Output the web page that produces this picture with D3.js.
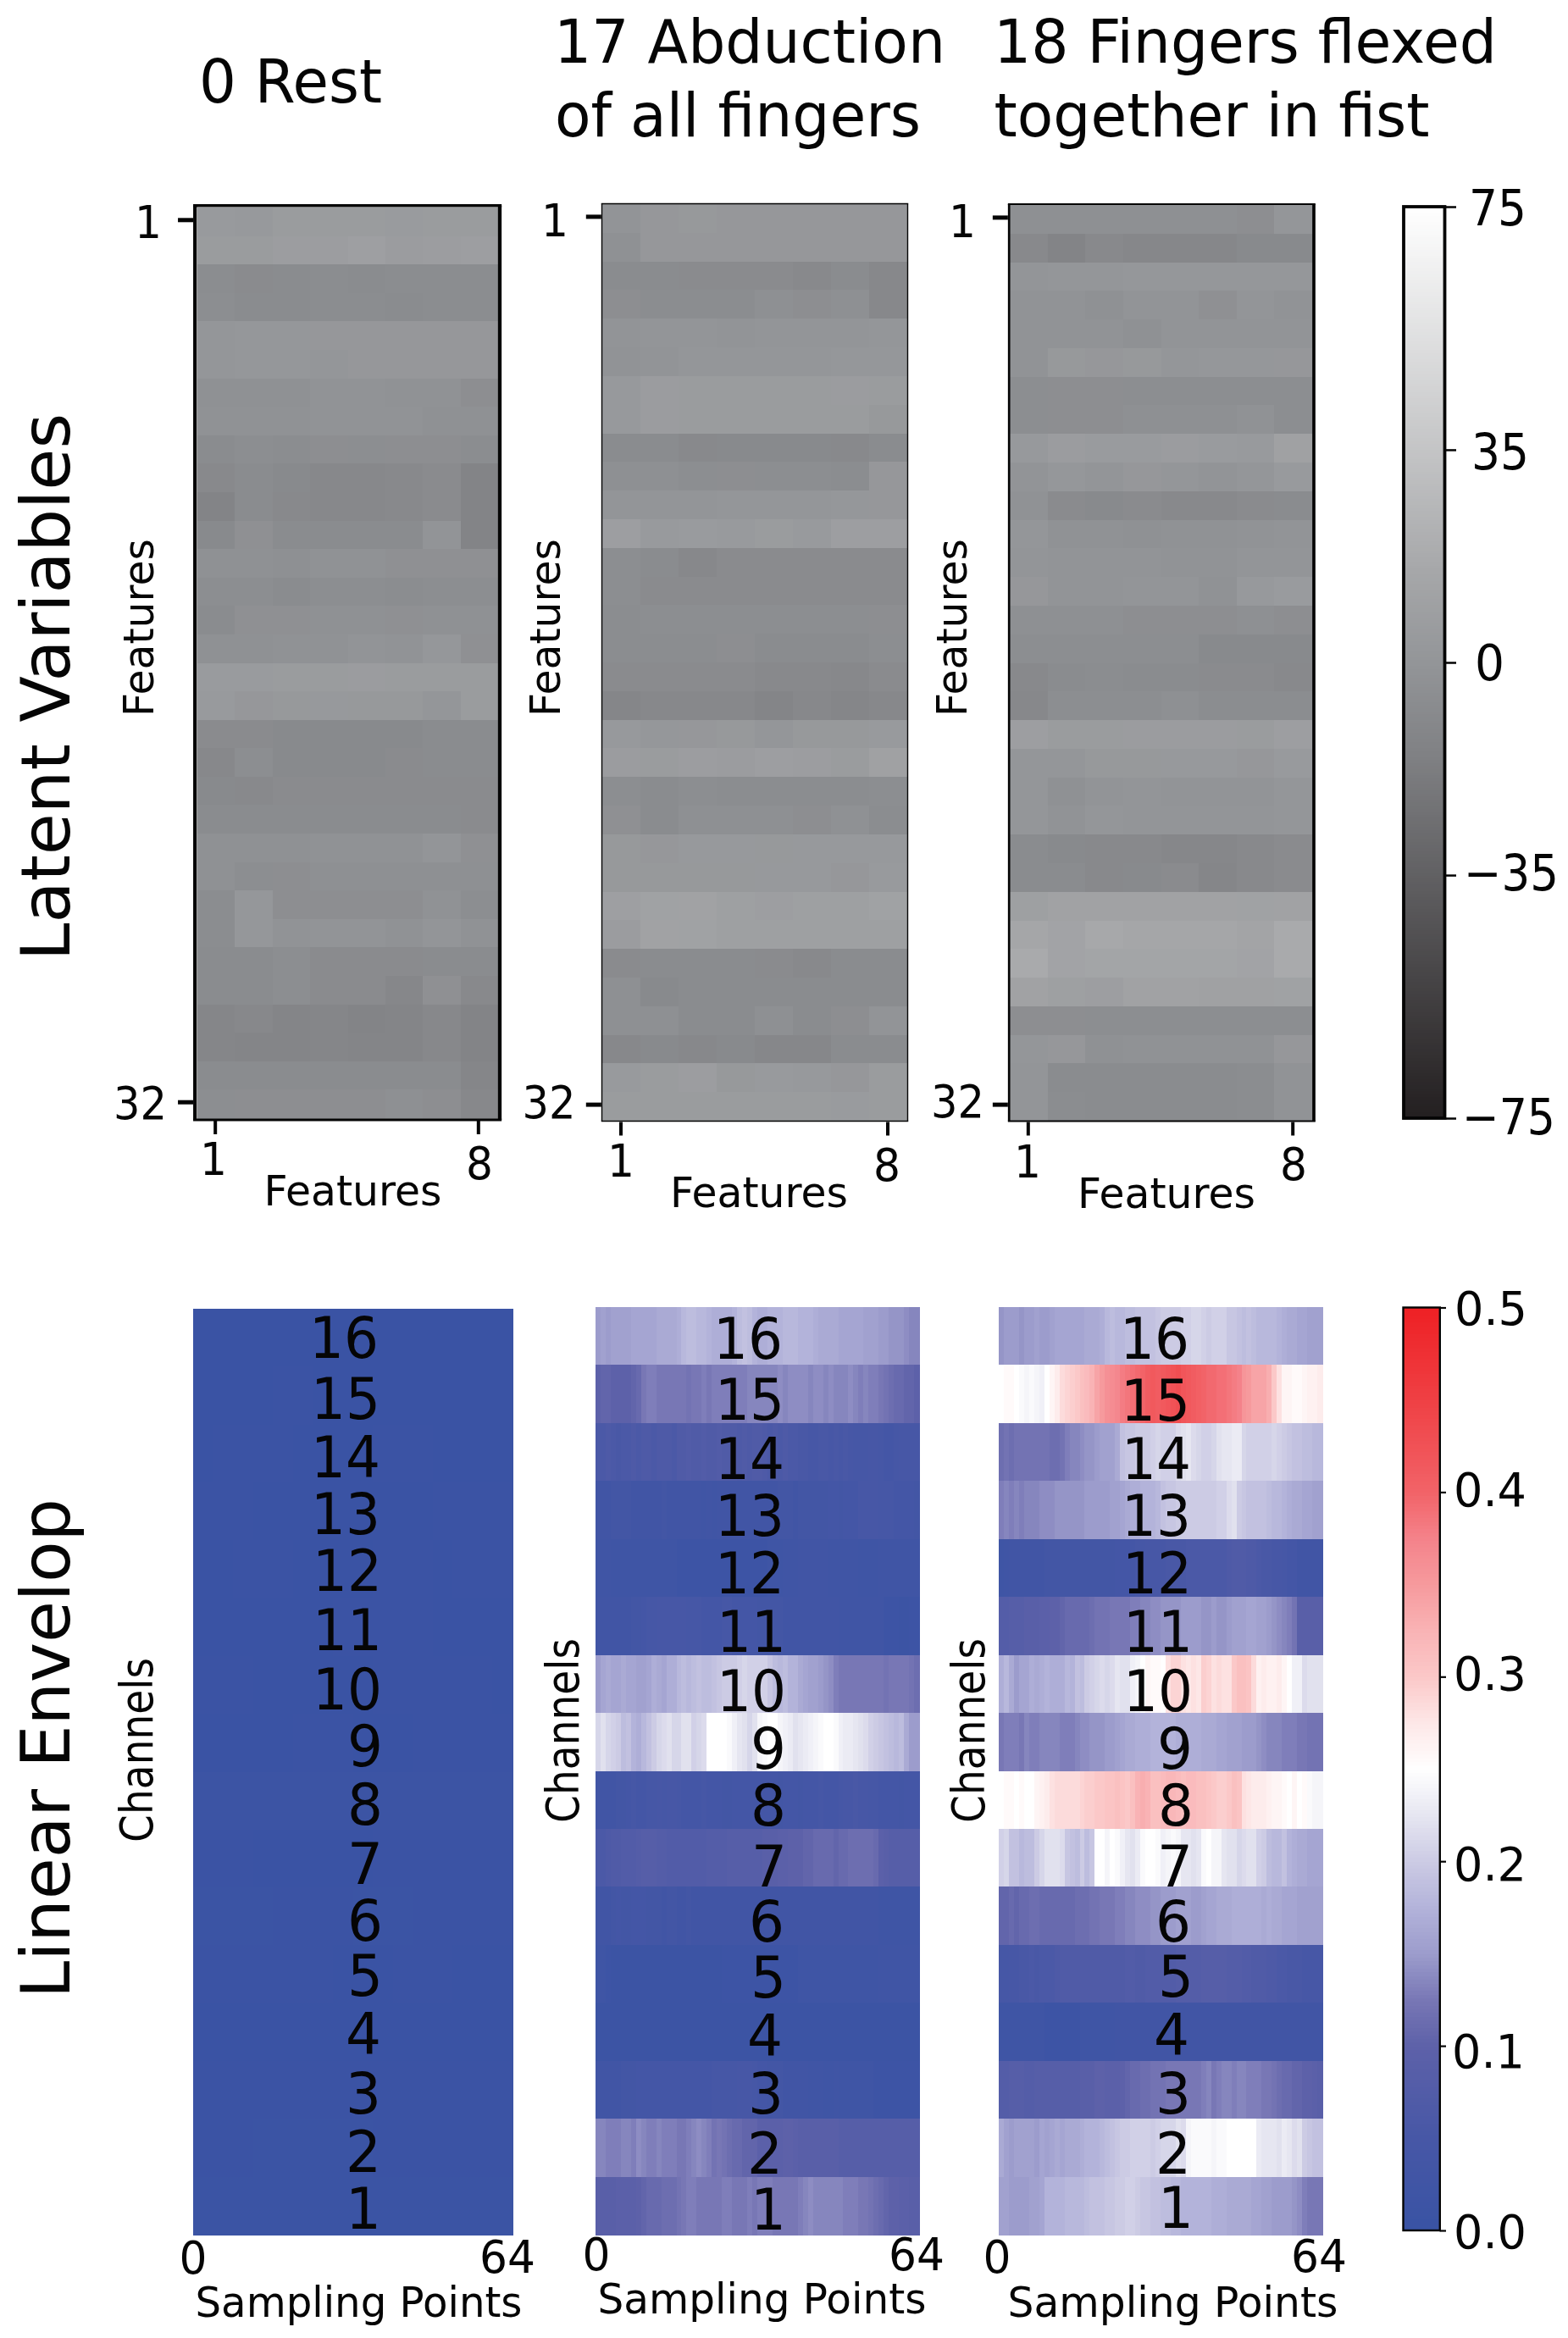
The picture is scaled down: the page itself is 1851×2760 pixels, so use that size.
<!DOCTYPE html>
<html><head><meta charset="utf-8">
<style>html,body{margin:0;padding:0;background:#fff}svg{display:block}text{font-family:"DejaVu Sans",sans-serif;fill:#050505}</style>
<script src="https://cdnjs.cloudflare.com/ajax/libs/d3/7.8.5/d3.min.js"></script>
</head><body><svg id="c" width="1851" height="2760"></svg>
<script>
// ---------- DATA ----------
const titles = [["0 Rest"],["17 Abduction","of all fingers"],["18 Fingers flexed","together in fist"]];
const featureRows = d3.range(1,33);
const featureCols = d3.range(1,9);
const channels = d3.range(16,0,-1);
const latentTicks = [75,35,0,-35,-75];
const envelopeTicks = [0.5,0.4,0.3,0.2,0.1,0.0];

const latentRest = [
[4,3.5,5.5,5.5,5.5,5,5.5,5.5],[5.5,5.5,7,7,8.5,6,7,7.5],[-6,-7.5,-7,-6,-7,-6,-6,-6],[-5.5,-7,-7,-6,-6,-7,-6,-6],
[.5,1.5,1.5,2,2,2,2,2],[.5,1.5,1.5,.5,2,2,2,2],[-3,-3,-3,-1.5,-1.5,-2,-2,-5],[-2,-2,-2,-1.5,-1.5,-1.5,-3,-3],
[-7,-5.5,-6,-5,-5.5,-5,-5,-6],[-9,-7,-8.5,-9.5,-9.5,-9,-7.5,-12.5],[-12.5,-7,-9,-9.5,-9.5,-9,-7.5,-12.5],[-8.5,-3.5,-7,-7,-7,-7,-.5,-12.5],
[-3,-3,-4,-2,-2,-3.5,-3.5,-3.5],[-5.5,-5.5,-7,-5.5,-5.5,-6,-5.5,-5.5],[-7,-3.5,-3.5,-3,-3,-3.5,-3,-3],[-3,-3,-2,-2,-.5,-1.5,1.5,-3.5],
[5,5,5.5,5.5,6,5.5,5.5,5.5],[4,2,3,3.5,3,3,.5,5.5],[-7.5,-7.5,-8.5,-8.5,-8.5,-8.5,-7,-7],[-9.5,-5.5,-8.5,-8.5,-8.5,-7.5,-7,-7],
[-8.5,-9,-7.5,-7.5,-7.5,-7.5,-7.5,-7.5],[-7,-7,-7,-7,-7,-7,-7,-7.5],[-3,-3,-3,-2,-2,-2,0,-3.5],[-3,-5.5,-5,-4,-4,-4,-4,-4],
[-6,1.5,-5,-5,-5,-5,-2,-5.5],[-6,1.5,-1.5,-.5,-.5,-2,0,-2],[-7,-7,-5.5,-7.5,-7.5,-7.5,-7,-7],[-7,-7,-5.5,-7.5,-7.5,-10.5,-3.5,-9],
[-11,-9.5,-12,-11,-12.5,-12,-9.5,-12.5],[-11,-12,-12,-11,-12,-12,-9.5,-12.5],[-7,-7,-7,-7,-7,-7,-7,-11],[-5.5,-5,-5,-5,-5,-4,-5,-9.5]];
const latentAbduction = [
[-.5,2,3,2,2,2,2,2],[-3,2,2,2,2,2,2,2],[-7,-7,-7.5,-7.5,-7.5,-9,-7,-9.5],[-5,-6,-6,-6,-4,-5,-4,-9.5],
[-.5,0,0,-.5,0,0,0,.5],[-1.5,-.5,.5,.5,.5,.5,1.5,1.5],[3.5,6,5.5,5.5,5.5,5.5,6,5.5],[3.5,6,5.5,5.5,5.5,5.5,5.5,3],
[-7,-7,-9,-8.5,-8.5,-8.5,-9,-7],[-4,-4,-5.5,-5,-5.5,-5.5,-6,2],[0,0,0,.5,.5,.5,1.5,2],[7.5,4,5,4,5.5,4,7.5,7.5],
[-5.5,-7,-9.5,-7.5,-7.5,-7.5,-7.5,-7.5],[-5.5,-7.5,-7.5,-7.5,-7.5,-7.5,-7.5,-7.5],[-6,-5.5,-5.5,-5.5,-5.5,-5.5,-5.5,-5],[-6,-6,-6,-5,-7,-7,-7,-5.5],
[-7.5,-7.5,-7.5,-7.5,-9,-9,-9.5,-7.5],[-11,-9.5,-9.5,-9.5,-12,-9.5,-11,-9.5],[3.5,1.5,2,3,.5,3,3,4],[6,5.5,7,6,7.5,7,5.5,10],
[-5.5,-7,-5.5,-6,-6,-6,-6,-5.5],[-3.5,-7,-4,-4,-4,-5,-3,-6],[3,2,3.5,3.5,3,3.5,3.5,3.5],[3,3,3,3,3.5,3.5,2,4],
[8.5,10.5,11,9,7.5,9,9,10.5],[6,11,10.5,9,9,9,9,9],[-7.5,-7,-7,-7,-7.5,-9,-7,-7],[-4,-8.5,-7,-7,-7,-7,-7,-7],
[-4,-4,-7,-7,-4,-7,-5,-.5],[-9.5,-8.5,-9.5,-8.5,-10.5,-10.5,-7,-7],[4,5.5,7,3,4,3.5,2,5.5],[5.5,5.5,5.5,5.5,5.5,5.5,5,5.5]];
const latentFist = [
[-4,-4,-4,-4,-4,-4,-5,.5],[-9,-12.5,-9,-10.5,-10.5,-10.5,-8.5,-8.5],[0,.5,.5,1.5,1.5,1.5,1.5,1.5],[-1.5,-1.5,-3,-.5,-.5,-3.5,0,-1.5],
[-1.5,-1.5,-1.5,-3,-.5,-.5,-.5,-.5],[-1.5,3,2,3,.5,1.5,1.5,2],[-5.5,-5,-5,-5.5,-5.5,-5.5,-5.5,-5.5],[-5.5,-5,-5,-4,-4,-4,-2,-5.5],
[3.5,6,5,5,6,5,4,10],[-.5,1.5,0,2,.5,-.5,.5,4],[-2,-7.5,-8.5,-7.5,-9,-9,-7.5,-7],[.5,-2,-2,-3,-2,-2,-1.5,-.5],
[0,-.5,-.5,-.5,-1.5,-1.5,0,0],[2,-.5,-.5,0,0,-2,3.5,5],[-4,-4,-4,-5,-5,-5,-4,-5],[-5.5,-5.5,-5.5,-5.5,-5.5,-8.5,-8.5,-8.5],
[-9,-7,-6,-7,-7,-7.5,-7.5,-9],[-9.5,-5.5,-5.5,-5.5,-4,-6,-6,-6],[7.5,5.5,5.5,6,6,6,5.5,7.5],[.5,.5,3,3,3.5,3.5,2,4],
[.5,-3,-.5,0,-.5,-.5,-.5,.5],[.5,-1.5,.5,0,0,0,0,.5],[-7,-8.5,-9,-9,-10.5,-10.5,-9,-7.5],[-7,-7,-9,-8.5,-7.5,-11,-9,-7.5],
[9,11,11,11,11,11,10.5,11],[14,12,16,14.5,14.5,14.5,12.5,17],[17,12,13,13,13,13,12,17],[11,9,7.5,11,11,10,10,10.5],
[-5,-5,-5.5,-5.5,-5.5,-5.5,-5.5,-5.5],[.5,2,-3,-2,-2,-2,-2,2],[0,-7,-7,-7,-7,-7,-6,-1.5],[0,-6,-7,-7,-7,-7,-6,-1.5]];

// rest: the picture is almost flat, read in 16 coarse blocks per channel
const envelopeRest = [
[.005,.005,.005,.005,.005,.005,.005,.005,.005,.005,.005,.005,.005,.005,.005,.005],
[.005,.005,.005,.005,.006,.006,.005,.005,.005,.005,.005,.005,.005,.005,.005,.005],
[.005,.006,.006,.006,.006,.005,.005,.005,.005,.006,.006,.006,.005,.005,.005,.005],
[.006,.006,.006,.005,.005,.005,.005,.005,.005,.005,.005,.005,.006,.006,.006,.006],
[.005,.005,.006,.006,.006,.005,.005,.005,.005,.006,.006,.006,.005,.006,.006,.006],
[.005,.005,.005,.005,.005,.005,.005,.006,.006,.006,.006,.006,.005,.005,.005,.005],
[.006,.006,.006,.005,.005,.005,.005,.005,.005,.006,.006,.006,.006,.006,.006,.005],
[.005,.005,.005,.005,.005,.006,.006,.006,.005,.005,.005,.006,.006,.006,.006,.006],
[.009,.009,.009,.01,.01,.009,.01,.01,.01,.011,.011,.011,.01,.01,.01,.009],
[.006,.006,.006,.005,.005,.005,.005,.005,.005,.006,.006,.006,.006,.006,.006,.006],
[.007,.007,.007,.007,.006,.006,.006,.006,.007,.007,.007,.006,.006,.006,.006,.006],
[.006,.006,.006,.006,.006,.006,.006,.005,.005,.005,.006,.006,.006,.005,.005,.005],
[.005,.005,.005,.005,.005,.005,.005,.005,.005,.005,.005,.005,.005,.005,.005,.005],
[.006,.006,.006,.006,.006,.006,.006,.006,.006,.006,.006,.006,.006,.006,.006,.006],
[.006,.006,.006,.007,.007,.007,.007,.007,.007,.006,.006,.006,.006,.006,.006,.006],
[.008,.008,.008,.008,.007,.007,.007,.007,.007,.007,.008,.008,.008,.007,.007,.007]];

const envelopeAbduction = [
[.15,.155,.15,.155,.155,.155,.155,.16,.16,.16,.16,.16,.165,.165,.165,.165,.17,.18,.185,.185,.18,.18,.175,.17,.17,.17,.17,.175,.185,.19,.185,.175,.17,.17,.175,.175,.175,.18,.18,.18,.175,.175,.175,.17,.165,.165,.165,.165,.16,.16,.16,.16,.16,.155,.155,.155,.15,.15,.145,.145,.145,.14,.135,.135],
[.1,.105,.105,.1,.1,.1,.1,.105,.11,.125,.13,.13,.125,.125,.125,.125,.125,.125,.12,.125,.125,.13,.125,.13,.13,.13,.13,.13,.13,.13,.135,.135,.135,.135,.135,.135,.14,.135,.14,.14,.14,.14,.135,.14,.14,.135,.14,.135,.135,.135,.14,.135,.13,.135,.13,.13,.125,.12,.115,.11,.11,.105,.105,.1],
[.06,.06,.065,.06,.055,.06,.06,.065,.06,.065,.065,.06,.065,.065,.065,.06,.07,.07,.075,.07,.07,.075,.07,.07,.075,.07,.07,.07,.065,.07,.065,.07,.07,.065,.06,.065,.06,.065,.06,.06,.055,.055,.05,.05,.055,.055,.05,.055,.05,.055,.05,.045,.045,.045,.05,.05,.045,.04,.04,.045,.05,.05,.05,.05],
[.03,.03,.03,.035,.035,.035,.035,.03,.03,.03,.03,.03,.03,.035,.03,.03,.03,.03,.03,.03,.03,.025,.03,.025,.03,.03,.03,.03,.03,.03,.03,.03,.03,.03,.03,.03,.035,.035,.035,.03,.035,.035,.035,.035,.035,.035,.04,.04,.035,.04,.04,.04,.05,.05,.05,.05,.045,.045,.045,.04,.04,.04,.04,.035],
[.025,.025,.025,.02,.02,.02,.02,.02,.02,.02,.02,.02,.02,.02,.02,.02,.015,.015,.015,.015,.015,.015,.015,.015,.015,.015,.015,.015,.015,.015,.015,.015,.015,.015,.02,.02,.02,.025,.025,.025,.03,.03,.03,.03,.03,.03,.025,.025,.025,.025,.025,.025,.02,.02,.02,.02,.025,.025,.025,.025,.025,.025,.025,.025],
[.03,.03,.03,.03,.03,.03,.03,.035,.035,.04,.045,.045,.05,.05,.05,.05,.05,.05,.045,.045,.045,.04,.04,.04,.04,.045,.045,.04,.04,.04,.04,.04,.035,.035,.035,.035,.035,.03,.03,.03,.03,.03,.03,.03,.03,.03,.03,.03,.025,.025,.025,.025,.025,.025,.025,.025,.025,.015,.015,.015,.01,.01,.015,.015],
[.15,.16,.165,.16,.16,.165,.16,.16,.155,.155,.16,.17,.165,.16,.17,.17,.18,.185,.18,.185,.19,.185,.185,.19,.195,.2,.2,.2,.205,.21,.205,.205,.205,.205,.195,.185,.18,.185,.175,.175,.165,.16,.155,.155,.15,.145,.14,.13,.125,.125,.125,.125,.125,.125,.125,.125,.125,.12,.125,.125,.125,.125,.12,.115],
[.21,.22,.21,.205,.2,.185,.19,.175,.17,.18,.19,.2,.21,.215,.22,.21,.21,.22,.22,.205,.21,.215,.25,.25,.25,.25,.245,.235,.225,.22,.21,.22,.24,.245,.25,.25,.24,.235,.23,.22,.225,.23,.235,.24,.245,.25,.25,.245,.235,.23,.23,.225,.22,.215,.205,.2,.195,.19,.185,.18,.185,.165,.15,.15],
[.03,.03,.03,.03,.035,.035,.04,.045,.04,.04,.045,.045,.05,.045,.05,.05,.045,.04,.04,.04,.04,.045,.04,.04,.04,.035,.035,.04,.04,.04,.04,.04,.04,.04,.04,.04,.035,.04,.04,.04,.035,.04,.04,.04,.045,.04,.04,.04,.045,.05,.05,.055,.05,.05,.045,.045,.04,.04,.04,.04,.035,.04,.04,.04],
[.06,.06,.065,.07,.07,.075,.075,.075,.08,.085,.085,.085,.08,.08,.075,.075,.075,.075,.075,.075,.075,.075,.08,.08,.08,.08,.085,.085,.085,.085,.085,.085,.085,.09,.09,.09,.095,.095,.1,.1,.1,.105,.105,.11,.11,.11,.11,.105,.11,.11,.115,.115,.115,.115,.115,.11,.095,.09,.085,.085,.085,.085,.085,.085],
[.03,.03,.03,.035,.04,.035,.035,.04,.04,.04,.035,.035,.035,.03,.035,.035,.03,.03,.035,.03,.03,.03,.03,.03,.03,.03,.03,.03,.03,.03,.03,.03,.03,.03,.03,.03,.03,.03,.03,.03,.03,.03,.03,.03,.03,.03,.03,.03,.03,.03,.03,.03,.03,.03,.03,.03,.02,.02,.02,.02,.02,.02,.02,.02],
[.02,.02,.015,.01,.01,.01,.01,.01,.01,.01,.01,.01,.01,.01,.01,.01,.01,.01,.01,.01,.01,.01,.01,.01,.01,.015,.015,.015,.015,.015,.015,.015,.015,.015,.015,.015,.015,.015,.015,.015,.02,.02,.02,.02,.02,.02,.02,.02,.02,.02,.02,.02,.02,.02,.02,.02,.025,.025,.025,.025,.025,.025,.025,.025],
[.012,.012,.012,.012,.012,.012,.012,.012,.012,.012,.012,.012,.012,.012,.012,.012,.012,.012,.012,.012,.012,.012,.012,.012,.012,.012,.01,.01,.01,.01,.01,.01,.01,.01,.01,.01,.012,.012,.012,.012,.012,.012,.012,.012,.012,.012,.012,.012,.012,.012,.012,.012,.01,.01,.01,.01,.01,.01,.01,.01,.01,.01,.01,.01],
[.03,.03,.03,.03,.03,.035,.035,.035,.04,.04,.04,.04,.04,.04,.04,.04,.04,.04,.04,.04,.04,.04,.04,.045,.045,.045,.045,.045,.05,.05,.05,.045,.04,.04,.035,.035,.035,.03,.03,.03,.03,.03,.025,.025,.025,.02,.02,.025,.02,.02,.02,.02,.02,.02,.02,.015,.015,.015,.015,.015,.015,.015,.015,.015],
[.135,.135,.13,.13,.13,.135,.135,.13,.14,.135,.13,.13,.135,.13,.13,.13,.125,.125,.13,.135,.14,.135,.13,.12,.125,.12,.115,.11,.11,.105,.105,.105,.095,.095,.095,.095,.095,.1,.1,.095,.09,.09,.09,.09,.09,.09,.09,.09,.085,.085,.085,.085,.085,.085,.085,.085,.085,.085,.085,.085,.085,.085,.085,.085],
[.09,.09,.09,.09,.095,.095,.095,.095,.1,.105,.11,.11,.11,.115,.115,.115,.12,.125,.13,.13,.125,.125,.125,.125,.125,.13,.13,.125,.125,.125,.13,.125,.13,.13,.13,.125,.125,.125,.125,.125,.13,.135,.14,.135,.135,.135,.135,.135,.135,.13,.13,.13,.125,.125,.12,.115,.11,.105,.1,.1,.095,.095,.09,.09]];

const envelopeFist = [
[.145,.15,.15,.15,.145,.15,.15,.155,.15,.15,.155,.16,.16,.16,.16,.16,.16,.165,.165,.165,.17,.18,.185,.18,.18,.185,.185,.19,.19,.19,.19,.195,.2,.2,.2,.2,.205,.205,.21,.21,.205,.2,.205,.205,.205,.195,.195,.19,.185,.19,.185,.18,.18,.18,.18,.175,.17,.165,.165,.16,.16,.155,.155,.155],
[.25,.255,.255,.25,.245,.24,.245,.24,.235,.25,.26,.27,.285,.29,.295,.3,.31,.315,.325,.34,.35,.36,.365,.37,.38,.385,.39,.395,.4,.41,.415,.41,.415,.42,.425,.43,.42,.415,.41,.405,.4,.395,.395,.39,.39,.385,.38,.375,.355,.35,.34,.34,.34,.33,.3,.28,.26,.26,.255,.255,.26,.265,.265,.27],
[.115,.12,.115,.12,.12,.12,.12,.12,.12,.12,.115,.115,.12,.13,.135,.135,.14,.145,.145,.15,.155,.155,.155,.165,.19,.195,.195,.2,.2,.2,.205,.21,.205,.205,.205,.215,.22,.225,.215,.21,.205,.205,.21,.22,.225,.225,.23,.23,.21,.205,.205,.205,.205,.205,.21,.205,.2,.195,.19,.19,.185,.185,.18,.18],
[.13,.135,.13,.135,.13,.135,.135,.135,.14,.14,.14,.145,.145,.145,.145,.145,.145,.15,.15,.15,.15,.15,.155,.155,.16,.165,.17,.17,.175,.175,.175,.18,.19,.195,.195,.2,.2,.2,.2,.2,.2,.2,.2,.205,.205,.215,.22,.2,.195,.19,.19,.19,.19,.185,.18,.18,.175,.17,.165,.165,.16,.16,.155,.155],
[.02,.025,.03,.03,.03,.03,.03,.03,.03,.035,.035,.035,.035,.035,.035,.035,.035,.035,.035,.035,.035,.035,.035,.04,.04,.04,.04,.045,.045,.05,.05,.05,.05,.055,.055,.055,.055,.06,.06,.06,.06,.06,.06,.06,.06,.065,.07,.07,.07,.065,.065,.06,.055,.055,.05,.05,.045,.04,.04,.03,.03,.03,.03,.03],
[.08,.08,.085,.085,.085,.09,.09,.09,.095,.095,.1,.1,.105,.11,.11,.11,.11,.11,.115,.12,.12,.12,.125,.125,.125,.125,.13,.13,.135,.135,.14,.14,.145,.145,.145,.145,.15,.15,.15,.15,.145,.145,.15,.145,.145,.15,.155,.155,.155,.16,.16,.155,.155,.15,.145,.14,.135,.13,.12,.09,.09,.09,.09,.09],
[.17,.18,.165,.15,.16,.16,.17,.165,.17,.175,.17,.17,.17,.18,.175,.19,.185,.2,.205,.21,.215,.21,.215,.225,.22,.22,.235,.24,.25,.26,.255,.255,.25,.28,.29,.29,.28,.275,.28,.275,.295,.29,.28,.285,.28,.28,.3,.31,.31,.305,.285,.265,.27,.265,.265,.27,.26,.25,.235,.235,.215,.22,.22,.22],
[.125,.13,.13,.13,.125,.135,.13,.13,.135,.135,.135,.135,.13,.13,.13,.135,.14,.14,.145,.145,.145,.15,.15,.155,.16,.165,.165,.17,.17,.17,.175,.175,.175,.175,.175,.17,.17,.17,.17,.17,.165,.165,.165,.16,.16,.155,.155,.155,.15,.15,.15,.145,.14,.135,.135,.135,.13,.13,.13,.125,.125,.12,.12,.12],
[.25,.255,.255,.25,.255,.25,.25,.26,.265,.27,.28,.285,.285,.285,.285,.285,.29,.295,.295,.3,.3,.305,.305,.31,.305,.3,.31,.325,.33,.325,.31,.31,.315,.32,.32,.315,.31,.315,.315,.31,.31,.305,.3,.295,.295,.3,.31,.305,.28,.275,.27,.27,.27,.265,.26,.26,.255,.25,.26,.25,.255,.245,.24,.24],
[.205,.21,.19,.19,.18,.185,.185,.2,.21,.22,.22,.22,.215,.195,.19,.185,.2,.185,.195,.25,.25,.24,.25,.245,.235,.225,.22,.23,.245,.25,.25,.245,.235,.24,.245,.24,.225,.225,.22,.225,.245,.25,.24,.24,.225,.22,.22,.21,.215,.22,.22,.205,.2,.185,.18,.18,.19,.175,.17,.165,.165,.16,.16,.16],
[.105,.105,.11,.105,.11,.11,.115,.115,.11,.11,.11,.11,.11,.11,.11,.115,.115,.115,.12,.12,.125,.125,.125,.13,.13,.135,.135,.14,.14,.14,.145,.145,.15,.15,.15,.155,.155,.155,.15,.15,.155,.16,.16,.165,.165,.165,.17,.17,.17,.17,.17,.17,.165,.17,.165,.165,.16,.16,.16,.155,.155,.155,.155,.155],
[.045,.045,.05,.05,.055,.055,.06,.055,.06,.06,.06,.065,.07,.07,.07,.07,.07,.07,.07,.07,.07,.07,.07,.07,.07,.075,.075,.07,.07,.075,.075,.075,.075,.075,.075,.08,.08,.08,.08,.08,.085,.085,.085,.085,.085,.08,.08,.08,.075,.075,.07,.07,.07,.065,.065,.06,.06,.055,.055,.055,.05,.05,.05,.05],
[.02,.02,.02,.02,.02,.02,.02,.02,.02,.015,.015,.015,.015,.015,.015,.015,.02,.02,.02,.02,.02,.02,.025,.03,.03,.03,.03,.03,.03,.03,.03,.03,.03,.03,.03,.03,.03,.03,.03,.03,.03,.03,.03,.03,.03,.03,.03,.03,.03,.03,.03,.03,.03,.03,.03,.03,.03,.03,.03,.03,.03,.03,.03,.03],
[.08,.08,.085,.085,.085,.08,.08,.085,.085,.085,.085,.085,.085,.085,.085,.085,.09,.09,.09,.1,.1,.095,.095,.095,.1,.105,.11,.11,.115,.115,.12,.12,.12,.125,.125,.125,.125,.125,.125,.125,.13,.135,.125,.13,.135,.135,.13,.135,.135,.13,.13,.13,.125,.125,.12,.115,.11,.11,.105,.105,.1,.1,.095,.09],
[.165,.155,.15,.155,.155,.155,.155,.15,.16,.155,.16,.165,.16,.165,.165,.165,.17,.175,.175,.175,.18,.185,.19,.195,.2,.2,.205,.205,.205,.205,.2,.205,.21,.21,.21,.22,.215,.24,.245,.245,.245,.245,.24,.245,.245,.25,.25,.25,.25,.25,.25,.23,.225,.225,.225,.22,.23,.225,.215,.22,.2,.195,.19,.19],
[.155,.155,.15,.15,.15,.15,.155,.155,.16,.175,.175,.175,.175,.18,.18,.18,.18,.185,.19,.19,.19,.195,.195,.2,.2,.205,.205,.2,.195,.195,.19,.19,.185,.185,.18,.18,.175,.175,.175,.175,.175,.175,.17,.17,.17,.165,.165,.165,.165,.165,.16,.16,.155,.155,.15,.15,.15,.15,.145,.14,.13,.125,.125,.125]];

// ---------- COLOUR ----------
const grayScale = d3.scaleLinear().domain([-75,-15,0,15,75]).range(["#231f20","#808184","#939598","#a6a7a9","#ffffff"]);
const bwrStops = [[0,"#3953a4"],[.05,"#4757a6"],[.1,"#5d61a9"],[.125,"#7877b5"],[.15,"#9c9ccc"],[.175,"#b3b3da"],[.2,"#cccbe4"],[.225,"#e6e6f1"],[.25,"#ffffff"],[.275,"#fde7e7"],[.3,"#fbc8c8"],[.325,"#f9b3b5"],[.35,"#f69a9d"],[.375,"#f4828a"],[.4,"#f26368"],[.45,"#ef4044"],[.5,"#ee2024"]];
const bwrScale = d3.scaleLinear().domain(bwrStops.map(d=>d[0])).range(bwrStops.map(d=>d[1])).clamp(true);

// ---------- LAYOUT ----------
const topPanels = [
 {x0:233,x1:588,y0:245,y1:1320, fx0:230.2,fx1:590,fy0:242.7,fy1:1322, sw:[3.5,4.3,3,4.3], data:latentRest},
 {x0:711,x1:1071,y0:241,y1:1323, fx0:710.5,fx1:1071.5,fy0:240.5,fy1:1323.5, sw:[1.4,1.4,1.4,1.4], data:latentAbduction},
 {x0:1192,x1:1549,y0:242,y1:1323, fx0:1191.2,fx1:1551,fy0:241,fy1:1323.5, sw:[2,3.7,2,2.7], data:latentFist}];
const botPanels = [
 {x0:228,x1:605,y0:1545,y1:2638, data:envelopeRest},
 {x0:703,x1:1085,y0:1543,y1:2638, data:envelopeAbduction},
 {x0:1179,x1:1561,y0:1543,y1:2638, data:envelopeFist}];
const titleLayout = [
 [{x:343,y:121,len:216}],
 [{x:885,y:74,len:462},{x:871,y:161,len:432}],
 [{x:1470,y:74,len:594},{x:1430.5,y:161,len:514}]];
const yTickLabels = [[{x:175,y:281},{x:165.5,y:1321}],[{x:655,y:279},{x:648,y:1320}],[{x:1136,y:280},{x:1130.5,y:1319}]];
const xTickLabels = [[{x:252,y:1387},{x:566,y:1392}],[{x:733,y:1389},{x:1047,y:1394}],[{x:1213,y:1390},{x:1527,y:1393}]];
const featLabelV = [181,661,1141];
const featLabelH = [{x:416.5,y:1423},{x:896,y:1425},{x:1377,y:1426}];
const chanLabelV = [{x:180,y:2066},{x:683,y:2043},{x:1162,y:2043}];
const sampLabelH = [{x:423.5,y:2735,len:386},{x:899.5,y:2731,len:388},{x:1384.5,y:2735,len:390}];
const botTicks = [[{x:228,y:2684},{x:599,y:2683}],[{x:704,y:2680},{x:1082,y:2680}],[{x:1177,y:2683},{x:1557,y:2682}]];
const chanX = [
 [406,408,408,408,410,410,410,431,431,431,431,431,429,429,429,429],
 [883,885,885,885,885,887,887,907,907,908,905,907,903,904,903,907],
 [1363,1364,1365,1365,1366,1367,1367,1387,1388,1387,1385,1388,1383,1385,1385,1388]];
const chanY = [
 [1578,1650,1719,1786,1853,1923,1993,2060,2129,2199,2266,2331,2400,2470,2539,2606],
 [1579,1651,1721,1788,1856,1925,1995,2063,2130,2202,2267,2333,2402,2470,2541,2607],
 [1579,1652,1721,1788,1856,1925,1995,2063,2130,2202,2267,2332,2401,2470,2541,2605]];

const svg = d3.select("#c");
svg.append("rect").attr("width",1851).attr("height",2760).attr("fill","#fff");

function txt(s,x,y,size,len,anchor="middle",rot=false){
  const t = svg.append("text").attr("x",x).attr("y",y).attr("font-size",size).attr("text-anchor",anchor).text(s);
  if(len) t.attr("textLength",len).attr("lengthAdjust","spacingAndGlyphs");
  if(rot) t.attr("transform",`rotate(-90 ${x} ${y})`);
  return t;
}

// ---------- TOP: latent variables ----------
topPanels.forEach((p,i)=>{
  const x = d3.scaleBand().domain(featureCols).range([p.x0,p.x1]);
  const y = d3.scaleBand().domain(featureRows).range([p.y0,p.y1]);
  const g = svg.append("g");
  p.data.forEach((row,r)=>row.forEach((v,c)=>{
    g.append("rect").attr("x",x(c+1)).attr("y",y(r+1)).attr("width",x.bandwidth()+.5).attr("height",y.bandwidth()+.5)
     .attr("fill",grayScale(v)).attr("shape-rendering","crispEdges");
  }));
  // frame sides: top,right,bottom,left
  const f=[[p.fx0-p.sw[3]/2,p.fy0,p.fx1+p.sw[1]/2,p.fy0],[p.fx1,p.fy0,p.fx1,p.fy1],[p.fx0-p.sw[3]/2,p.fy1,p.fx1+p.sw[1]/2,p.fy1],[p.fx0,p.fy0,p.fx0,p.fy1]];
  f.forEach((l,k)=>svg.append("line").attr("x1",l[0]).attr("y1",l[1]).attr("x2",l[2]).attr("y2",l[3]).attr("stroke","#050505").attr("stroke-width",p.sw[k]));
  const ax = d3.axisBottom(x).tickValues([1,8]).tickSize(16).tickFormat("");
  const ay = d3.axisLeft(y).tickValues([1,32]).tickSize(18).tickFormat("");
  const gx = svg.append("g").attr("transform",`translate(${(i==0?-1:-.5)},${p.fy1+1})`).call(ax);
  const gy = svg.append("g").attr("transform",`translate(${p.fx0-p.sw[3]/2},-2)`).call(ay);
  [gx,gy].forEach(s=>{s.select(".domain").remove();});
  gx.selectAll("line").attr("stroke","#050505").attr("stroke-width",4);
  gy.selectAll("line").attr("stroke","#050505").attr("stroke-width",5);
  yTickLabels[i].forEach((l,k)=>txt(String([1,32][k]),l.x,l.y,53,k?63:32));
  xTickLabels[i].forEach((l,k)=>txt(String([1,8][k]),l.x,l.y,53,32));
  txt("Features",featLabelV[i],741,50,210,"middle",true);
  txt("Features",featLabelH[i].x,featLabelH[i].y,50,210);
  titles[i].forEach((s,k)=>{const l=titleLayout[i][k];txt(s,l.x,l.y,72,l.len);});
});

// ---------- BOTTOM: linear envelope ----------
botPanels.forEach((p,i)=>{
  const y = d3.scaleBand().domain(channels).range([p.y0,p.y1]);
  const x = d3.scaleBand().domain(d3.range(p.data[0].length)).range([p.x0,p.x1]);
  const g = svg.append("g");
  p.data.forEach((row,r)=>row.forEach((v,c)=>{
    g.append("rect").attr("x",x(c)).attr("y",y(channels[r])).attr("width",x.bandwidth()+.5).attr("height",y.bandwidth()+.5)
     .attr("fill",bwrScale(v)).attr("shape-rendering","crispEdges");
  }));
  channels.forEach((ch,k)=>txt(String(ch),chanX[i][k],chanY[i][k]+25,68,ch>9?82:42));
  botTicks[i].forEach((l,k)=>txt(String([0,64][k]),l.x,l.y,53,k?66:33));
  txt("Channels",chanLabelV[i].x,chanLabelV[i].y,54,218,"middle",true);
  txt("Sampling Points",sampLabelH[i].x,sampLabelH[i].y,50,sampLabelH[i].len);
});

// ---------- COLOURBARS ----------
const cbT = d3.scaleLinear().domain([-75,75]).range([1320,244]);
const cbTg = svg.append("g");
d3.range(-75,75,.5).forEach(v=>cbTg.append("rect").attr("x",1657).attr("width",48).attr("y",cbT(v+.5)).attr("height",cbT(v)-cbT(v+.5)+.5).attr("fill",grayScale(v+.25)).attr("shape-rendering","crispEdges"));
svg.append("rect").attr("x",1657).attr("y",244).attr("width",48.5).attr("height",1076).attr("fill","none").attr("stroke","#050505").attr("stroke-width",3.8);
const gT = svg.append("g").attr("transform","translate(1707,0)").call(d3.axisRight(cbT).tickValues(latentTicks).tickSize(12).tickFormat(""));
gT.select(".domain").remove(); gT.selectAll("line").attr("stroke","#050505").attr("stroke-width",2.5);
const latentLabelPos=[{x:1734,y:266,a:"start",len:68},{x:1737,y:554,a:"start",len:68},{x:1741,y:803,a:"start",len:35},{x:1840,y:1051,a:"end",len:112},{x:1836,y:1339,a:"end",len:110}];
latentTicks.forEach((t,k)=>{const s=t<0?"\u2212"+(-t):String(t);const l=latentLabelPos[k];
  txt(s,l.x,l.y,58,l.len,l.a);});

const cbB = d3.scaleLinear().domain([0,.5]).range([2633,1543.5]);
const cbBg = svg.append("g");
d3.range(0,.5,.002).forEach(v=>cbBg.append("rect").attr("x",1656.5).attr("width",43).attr("y",cbB(v+.002)).attr("height",cbB(v)-cbB(v+.002)+.5).attr("fill",bwrScale(v+.001)).attr("shape-rendering","crispEdges"));
svg.append("rect").attr("x",1656.5).attr("y",1543.5).attr("width",43.3).attr("height",1089.5).attr("fill","none").attr("stroke","#050505").attr("stroke-width",2.4);
const gB = svg.append("g").attr("transform","translate(1699.5,0)").call(d3.axisRight(cbB).tickValues(envelopeTicks).tickSize(7.5).tickFormat(""));
gB.select(".domain").remove(); gB.selectAll("line").attr("stroke","#050505").attr("stroke-width",2.2);
const envLabelPos=[{x:1717,y:1564},{x:1716,y:1778},{x:1716,y:1995},{x:1716,y:2220},{x:1714,y:2441},{x:1716,y:2654}];
envelopeTicks.forEach((t,k)=>{const l=envLabelPos[k];txt(t.toFixed(1),l.x,l.y,55,86,"start");});

txt("Latent Variables",82,811,81,646,"middle",true);
txt("Linear Envelop",82,2064,81,590,"middle",true);
</script></body></html>
